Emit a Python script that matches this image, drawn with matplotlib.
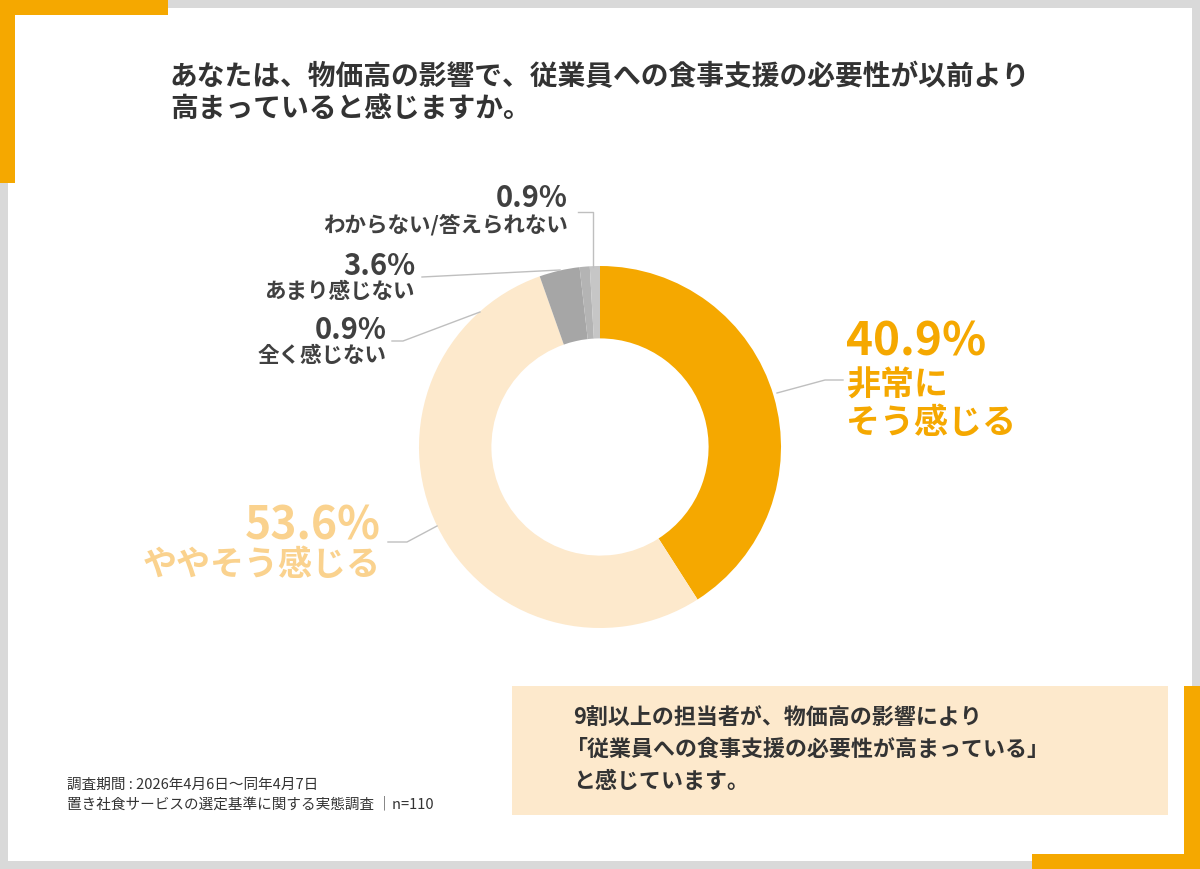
import matplotlib
matplotlib.use('Agg')
import matplotlib.pyplot as plt
from matplotlib.patches import Rectangle
from matplotlib.lines import Line2D

plt.rcParams['font.family'] = ['Noto Sans CJK JP', 'DejaVu Sans']

# data
labels = ['非常に\nそう感じる', 'ややそう感じる', 'あまり感じない', '全く感じない', 'わからない/答えられない']
values = [40.9, 53.6, 3.6, 0.9, 0.9]
colors = ['#F5A800', '#FDE9CC', '#A6A6A6', '#B4B4B4', '#C6C6C6']

title = 'あなたは、物価高の影響で、従業員への食事支援の必要性が以前より\n高まっていると感じますか。'
summary = ['9割以上の担当者が、物価高の影響により',
           '「従業員への食事支援の必要性が高まっている」',
           'と感じています。']
note = ['調査期間 : 2026年4月6日～同年4月7日',
        '置き社食サービスの選定基準に関する実態調査 │n=110']

W, H = 1200, 869
fig = plt.figure(figsize=(W / 100, H / 100), dpi=100)


def px(x, y):
    return x / W, 1 - y / H


# frame
def rect(x, y, w, h, c):
    fig.patches.append(Rectangle((x / W, 1 - (y + h) / H), w / W, h / H,
                                 transform=fig.transFigure, color=c, lw=0, zorder=0))


gray = '#D9D9D9'
rect(0, 0, W, 8, gray)
rect(0, H - 8, W, 8, gray)
rect(0, 0, 8, H, gray)
rect(W - 8, 0, 8, H, gray)
orange = '#F5A800'
rect(0, 0, 168, 15, orange)
rect(0, 0, 15, 183, orange)
rect(1032, H - 15, 168, 15, orange)
rect(W - 16, 686, 16, H - 686, orange)

# donut
cx, cy, r = 600, 447, 181
ax = fig.add_axes([(cx - r) / W, (H - cy - r) / H, 2 * r / W, 2 * r / H])
ax.pie(values, colors=colors, startangle=90, counterclock=False,
       wedgeprops=dict(width=0.4, linewidth=0))
ax.set_xlim(-1, 1)
ax.set_ylim(-1, 1)
ax.set_aspect('equal')
ax.axis('off')

# title
fig.text(*px(170, 93), title, fontsize=20, fontweight='bold', color='#333333',
         va='center', ha='left', linespacing=1.2)

# leader lines
lc = '#BFBFBF'
leaders = [
    [(777, 393), (825, 380), (843, 380)],
    [(437, 526), (407, 542), (388, 542)],
    [(560, 270), (422, 277)],
    [(480, 312), (403, 341), (392, 341)],
    [(593, 267), (593, 212), (578, 212)],
]
for pts in leaders:
    xs = [p[0] / W for p in pts]
    ys = [1 - p[1] / H for p in pts]
    fig.add_artist(Line2D(xs, ys, color=lc, lw=1, transform=fig.transFigure))

# labels
dark = '#404040'
fig.text(*px(846, 342), f'{values[0]}%', fontsize=33, fontweight='bold', color='#F5A800', ha='left', va='center')
fig.text(*px(846, 404), labels[0], fontsize=24.5, fontweight='bold', color='#F5A800', ha='left', va='center',
         linespacing=1.1)
fig.text(*px(381, 527), f'{values[1]}%', fontsize=32, fontweight='bold', color='#FAD28E', ha='right', va='center')
fig.text(*px(381, 564), labels[1], fontsize=24.5, fontweight='bold', color='#FAD28E', ha='right', va='center')

fig.text(*px(415, 266), f'{values[2]}%', fontsize=21, fontweight='bold', color=dark, ha='right', va='center')
fig.text(*px(415, 292), labels[2], fontsize=15.5, fontweight='bold', color=dark, ha='right', va='center')
fig.text(*px(387, 330), f'{values[3]}%', fontsize=21, fontweight='bold', color=dark, ha='right', va='center')
fig.text(*px(387, 356), labels[3], fontsize=15.5, fontweight='bold', color=dark, ha='right', va='center')
fig.text(*px(568, 198), f'{values[4]}%', fontsize=21, fontweight='bold', color=dark, ha='right', va='center')
fig.text(*px(568, 225), labels[4], fontsize=15.5, fontweight='bold', color=dark, ha='right', va='center')

# summary box
rect(512, 686, 656, 129, '#FDE9CC')
for i, line in enumerate(summary):
    x = 566 if line.startswith('「') else 573
    fig.text(*px(x, 717 + 32 * i), line, fontsize=15.8, fontweight='bold', color='#333333',
             ha='left', va='center')

# note
for i, line in enumerate(note):
    fig.text(*px(67, 785 + 19 * i), line, fontsize=10.5, color='#333333', ha='left', va='center')

fig.savefig('out.png', dpi=100, facecolor='white')
